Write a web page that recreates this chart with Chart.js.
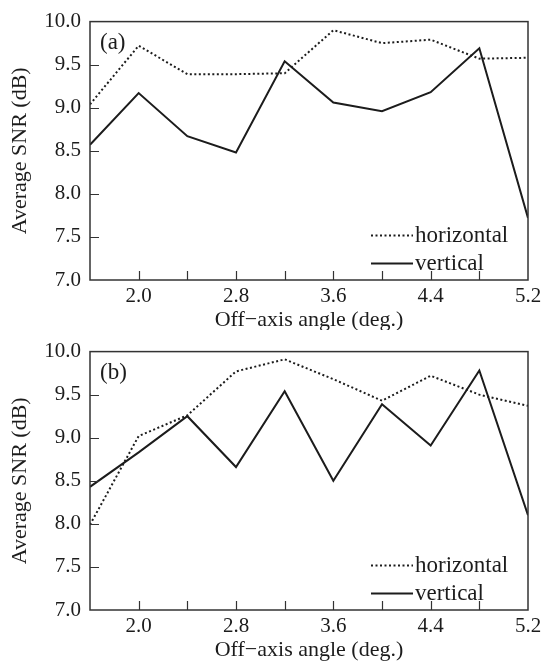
<!DOCTYPE html>
<html>
<head>
<meta charset="utf-8">
<script src="https://cdn.jsdelivr.net/npm/chart.js@4.4.1/dist/chart.umd.min.js"></script>
<style>
  html, body { margin: 0; padding: 0; background: #fff; }
  canvas { display: block; }
</style>
</head>
<body>
<canvas id="chart-a" width="546" height="330"></canvas>
<canvas id="chart-b" width="546" height="333"></canvas>
<script>
// angles (deg.) at which the SNR was measured
const angles = [1.6, 2.0, 2.4, 2.8, 3.2, 3.6, 4.0, 4.4, 4.8, 5.2];

// panel (a)
const horizontalA = [9.04, 9.72, 9.39, 9.39, 9.40, 9.90, 9.75, 9.79, 9.57, 9.58];
const verticalA = [8.57, 9.17, 8.67, 8.48, 9.54, 9.06, 8.96, 9.18, 9.69, 7.72];

// panel (b)
const horizontalB = [7.99, 9.02, 9.26, 9.77, 9.91, 9.68, 9.43, 9.72, 9.50, 9.37];
const verticalB = [8.43, 8.83, 9.25, 8.66, 9.54, 8.50, 9.39, 8.91, 9.78, 8.10];

// axis ticks
const xTickLabels = [2.0, 2.8, 3.6, 4.4, 5.2];
const xTickMarks = [2.0, 2.4, 2.8, 3.2, 3.6, 4.0, 4.4, 4.8];
const yTickMarks = [7.5, 8.0, 8.5, 9.0, 9.5];
const seriesNames = ["horizontal", "vertical"];

const FONT = "'Liberation Serif', 'Times New Roman', serif";
const INK = "#1c1c1c";

function toPoints(ys) {
    return angles.map((a, i) => ({ x: a, y: ys[i] }));
}

// frame, inward tick marks, panel tag and legend
const framePlugin = {
    id: "frame",
    afterDraw(chart, args, opts) {
        const ctx = chart.ctx;
        const area = chart.chartArea;
        const xs = chart.scales.x;
        const ys = chart.scales.y;
        ctx.save();
        ctx.strokeStyle = "#333";
        ctx.lineWidth = 1.5;
        ctx.strokeRect(area.left, area.top, area.right - area.left, area.bottom - area.top);

        ctx.lineWidth = 1.2;
        ctx.beginPath();
        xTickMarks.forEach(v => {
            const px = Math.round(xs.getPixelForValue(v)) + 0.5;
            ctx.moveTo(px, area.bottom);
            ctx.lineTo(px, area.bottom - 9);
        });
        yTickMarks.forEach(v => {
            const py = Math.round(ys.getPixelForValue(v)) + 0.5;
            ctx.moveTo(area.left, py);
            ctx.lineTo(area.left + 9, py);
        });
        ctx.stroke();

        // panel tag
        ctx.fillStyle = INK;
        ctx.font = "23px " + FONT;
        ctx.textAlign = "left";
        ctx.textBaseline = "middle";
        ctx.fillText(opts.tag, area.left + 10, area.top + 21);

        // legend
        const lx0 = area.right - 157;
        const lx1 = area.right - 115;
        chart.data.datasets.forEach((ds, i) => {
            const ly = area.top + 214 + i * 28;
            ctx.strokeStyle = INK;
            ctx.lineWidth = 2;
            ctx.setLineDash(ds.borderDash || []);
            ctx.beginPath();
            ctx.moveTo(lx0, ly);
            ctx.lineTo(lx1, ly);
            ctx.stroke();
            ctx.setLineDash([]);
            ctx.fillText(ds.label, lx1 + 2, ly);
        });
        ctx.restore();
    }
};

function makeChart(id, tag, horizontal, vertical, xAxisHeight, titlePad) {
    return new Chart(document.getElementById(id), {
        type: "line",
        data: {
            datasets: [{
                label: seriesNames[0],
                data: toPoints(horizontal),
                borderColor: INK,
                borderWidth: 2,
                borderDash: [2, 2.5],
                pointRadius: 0,
                tension: 0
            }, {
                label: seriesNames[1],
                data: toPoints(vertical),
                borderColor: INK,
                borderWidth: 2,
                pointRadius: 0,
                tension: 0
            }]
        },
        options: {
            responsive: false,
            animation: false,
            layout: { padding: { left: 0, right: 18, top: 14, bottom: 0 } },
            plugins: {
                legend: { display: false },
                tooltip: { enabled: false },
                frame: { tag: tag }
            },
            scales: {
                x: {
                    type: "linear",
                    min: 1.6,
                    max: 5.2,
                    afterBuildTicks: axis => { axis.ticks = xTickLabels.map(v => ({ value: v })); },
                    afterFit: axis => { axis.height = xAxisHeight; },
                    grid: { display: false, drawTicks: false },
                    border: { display: false },
                    ticks: {
                        padding: 4,
                        color: INK,
                        font: { family: FONT, size: 21 },
                        maxRotation: 0,
                        callback: v => v.toFixed(1)
                    },
                    title: {
                        display: true,
                        text: "Off\u2212axis angle (deg.)",
                        color: INK,
                        font: { family: FONT, size: 22, lineHeight: 0.9 },
                        padding: { top: 0, bottom: titlePad }
                    }
                },
                y: {
                    min: 7,
                    max: 10,
                    afterFit: axis => { axis.width = 90; },
                    grid: { display: false, drawTicks: false },
                    border: { display: false },
                    ticks: {
                        stepSize: 0.5,
                        padding: 9,
                        color: INK,
                        font: { family: FONT, size: 21 },
                        callback: v => v.toFixed(1)
                    },
                    title: {
                        display: true,
                        text: "Average SNR (dB)",
                        color: INK,
                        font: { family: FONT, size: 22 },
                        padding: { top: 7, bottom: 0 }
                    }
                }
            }
        },
        plugins: [framePlugin]
    });
}

makeChart("chart-a", "(a)", horizontalA, verticalA, 50, 0);
makeChart("chart-b", "(b)", horizontalB, verticalB, 53, 3);
</script>
</body>
</html>
